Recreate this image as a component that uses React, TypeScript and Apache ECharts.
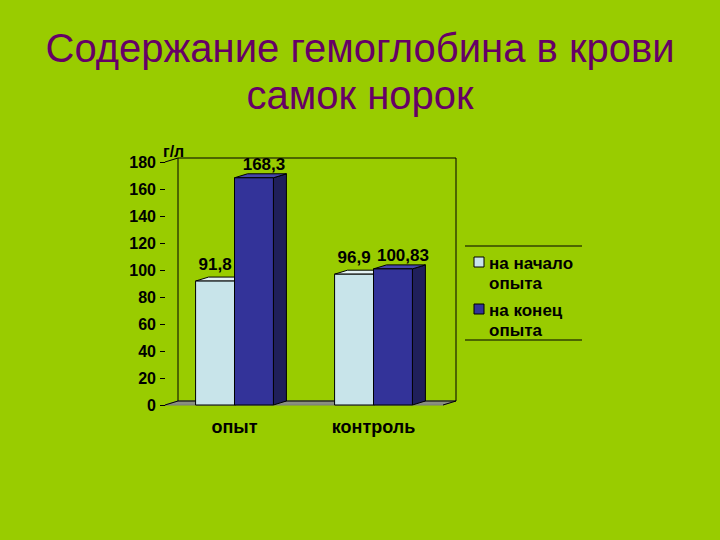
import React, { useEffect, useRef } from "react";
import * as echarts from "echarts";

const categories = ["опыт", "контроль"];
const seriesNames = ["на начало\nопыта", "на конец\nопыта"];
const startValues = [91.8, 96.9];
const endValues = [168.3, 100.83];
const startLabels = ["91,8", "96,9"];
const endLabels = ["168,3", "100,83"];
const yTicks = { min: 0, max: 180, interval: 20 };
const titleLines = ["Содержание гемоглобина в крови", "самок норок"];
const unitLabel = "г/л";

const BG = "#99cc00";
const FONT = "'Liberation Sans', Arial, sans-serif";
const colors = [
  { front: "#c8e4ea", top: "#e4f2f5", side: "#9fbcc4" },
  { front: "#333399", top: "#4646aa", side: "#1f1f5a" },
];
const labelOffsets = [
  [0, -17],
  [10, -13],
];
const DX = 13;
const DY = -4;
const BAR_FRAC = 0.28;

function barRender(sIdx: number, labels: string[]) {
  return (params: any, api: any) => {
    const cat = api.value(0);
    const val = api.value(1);
    const base = api.coord([cat, 0]);
    const top = api.coord([cat, val]);
    const band = api.size([1, 0])[0];
    const bw = band * BAR_FRAC;
    const x0 = base[0] + (sIdx - 1) * bw;
    const yT = top[1];
    const yB = base[1];
    const c = colors[sIdx];
    const off = labelOffsets[sIdx];
    return {
      type: "group",
      children: [
        {
          type: "polygon",
          shape: { points: [[x0 + bw, yT], [x0 + bw + DX, yT + DY], [x0 + bw + DX, yB + DY], [x0 + bw, yB]] },
          style: { fill: c.side, stroke: "#000", lineWidth: 1 },
        },
        {
          type: "polygon",
          shape: { points: [[x0, yT], [x0 + DX, yT + DY], [x0 + bw + DX, yT + DY], [x0 + bw, yT]] },
          style: { fill: c.top, stroke: "#000", lineWidth: 1 },
        },
        {
          type: "rect",
          shape: { x: x0, y: yT, width: bw, height: yB - yT },
          style: { fill: c.front, stroke: "#000", lineWidth: 1 },
        },
        {
          type: "text",
          x: x0 + bw / 2 + off[0],
          y: yT + off[1],
          z2: 10,
          style: {
            text: labels[params.dataIndex],
            fill: "#000",
            font: `bold 17px ${FONT}`,
            align: "center",
            verticalAlign: "middle",
          },
        },
      ],
    };
  };
}

function frameRender(params: any, api: any) {
  const p = api.coord([0, 0]);
  const band = api.size([1, 0])[0];
  const left = p[0] - band / 2;
  const right = left + band * categories.length;
  const yB = p[1];
  const yT = api.coord([0, yTicks.max])[1];
  return {
    type: "group",
    children: [
      {
        type: "polygon",
        shape: { points: [[left, yB], [left + DX, yB + DY], [right + DX, yB + DY], [right, yB]] },
        style: { fill: "#8a8f80", stroke: "#7a7a7a", lineWidth: 1 },
      },
      {
        type: "rect",
        shape: { x: left + DX, y: yT + DY, width: right - left, height: yB - yT },
        style: { fill: "none", stroke: "#000", lineWidth: 1 },
      },
      { type: "line", shape: { x1: left, y1: yT, x2: left + DX, y2: yT + DY }, style: { stroke: "#000", lineWidth: 1 } },
      { type: "line", shape: { x1: left, y1: yB, x2: left + DX, y2: yB + DY }, style: { stroke: "#000", lineWidth: 1 } },
      { type: "line", shape: { x1: right, y1: yB, x2: right + DX, y2: yB + DY }, style: { stroke: "#000", lineWidth: 1 } },
    ],
  };
}

export default function App() {
  const ref = useRef<HTMLDivElement>(null);
  useEffect(() => {
    if (!ref.current) return;
    const chart = echarts.init(ref.current, null, { renderer: "svg" });
    const legendText = { fill: "#000", font: `bold 17px ${FONT}`, lineHeight: 20, verticalAlign: "top" };
    chart.setOption({
      animation: false,
      backgroundColor: BG,
      title: {
        text: titleLines.join("\n"),
        left: "center",
        top: 19,
        textStyle: {
          color: "#660066",
          fontFamily: FONT,
          fontWeight: "normal",
          fontSize: 40,
          lineHeight: 47,
        },
      },
      grid: { left: 165, right: 277, top: 162, bottom: 135, containLabel: false },
      xAxis: {
        type: "category",
        data: categories,
        axisLine: { show: false },
        axisTick: { show: false },
        axisLabel: { color: "#000", fontFamily: FONT, fontWeight: "bold", fontSize: 18, margin: 13 },
      },
      yAxis: {
        type: "value",
        min: yTicks.min,
        max: yTicks.max,
        interval: yTicks.interval,
        name: unitLabel,
        nameLocation: "end",
        nameGap: 3,
        nameTextStyle: { color: "#000", fontFamily: FONT, fontWeight: "bold", fontSize: 16, align: "left", verticalAlign: "bottom", padding: [0, 0, 0, -2] },
        axisLine: { show: false },
        axisTick: { show: true, length: 5, lineStyle: { color: "#000" } },
        splitLine: { show: false },
        axisLabel: { color: "#000", fontFamily: FONT, fontWeight: "bold", fontSize: 16, margin: 9 },
      },
      series: [
        {
          type: "custom",
          name: "frame",
          renderItem: frameRender,
          data: [[0, 0]],
          z: 1,
          silent: true,
        },
        {
          type: "custom",
          name: seriesNames[0],
          renderItem: barRender(0, startLabels),
          data: startValues.map((v, i) => [i, v]),
          itemStyle: { color: colors[0].front },
          z: 2,
        },
        {
          type: "custom",
          name: seriesNames[1],
          renderItem: barRender(1, endLabels),
          data: endValues.map((v, i) => [i, v]),
          itemStyle: { color: colors[1].front },
          z: 3,
        },
      ],
      graphic: [
        { type: "line", shape: { x1: 465, y1: 246, x2: 582, y2: 246 }, style: { stroke: "#000", lineWidth: 1 } },
        { type: "line", shape: { x1: 465, y1: 340, x2: 582, y2: 340 }, style: { stroke: "#000", lineWidth: 1 } },
        { type: "rect", shape: { x: 474, y: 257, width: 10, height: 10 }, style: { fill: colors[0].front, stroke: "#000", lineWidth: 1 } },
        { type: "text", x: 489, y: 253, style: { ...legendText, text: seriesNames[0] } },
        { type: "rect", shape: { x: 474, y: 304, width: 10, height: 10 }, style: { fill: colors[1].front, stroke: "#000", lineWidth: 1 } },
        { type: "text", x: 489, y: 300, style: { ...legendText, text: seriesNames[1] } },
      ],
    });
    return () => chart.dispose();
  }, []);
  return (
    <div style={{ position: "fixed", left: 0, top: 0, width: 720, height: 540, background: BG }}>
      <div ref={ref} style={{ width: 720, height: 540 }} />
    </div>
  );
}
